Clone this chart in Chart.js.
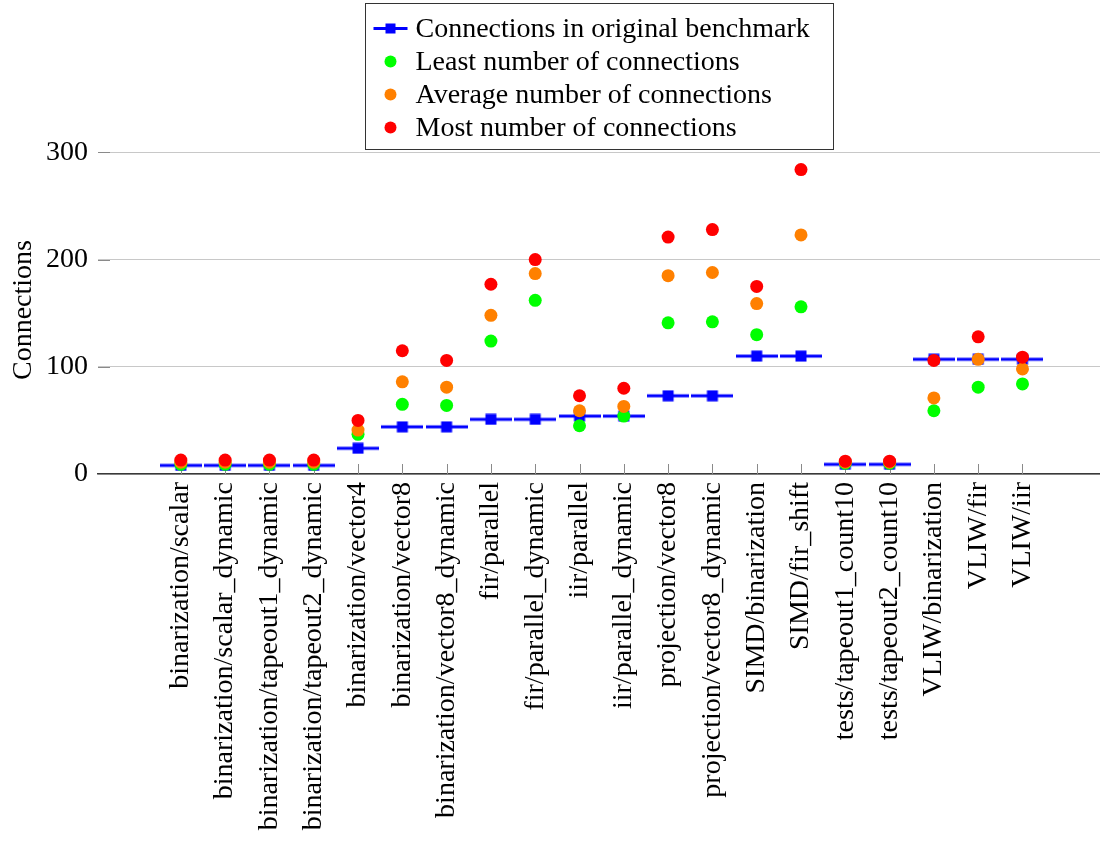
<!DOCTYPE html>
<html>
<head>
<meta charset="utf-8">
<title>Connections per benchmark</title>
<script src="https://cdn.jsdelivr.net/npm/chart.js@4.4.1/dist/chart.umd.min.js"></script>
<style>
  html, body { margin: 0; padding: 0; background: #fff; overflow: hidden; }
  #connChart { display: block; }
</style>
</head>
<body>
<canvas id="connChart" width="1100" height="846"></canvas>
<script>
// benchmark names along the x axis
const benchmarks = [
  'binarization/scalar', 'binarization/scalar_dynamic', 'binarization/tapeout1_dynamic',
  'binarization/tapeout2_dynamic', 'binarization/vector4', 'binarization/vector8',
  'binarization/vector8_dynamic', 'fir/parallel', 'fir/parallel_dynamic', 'iir/parallel',
  'iir/parallel_dynamic', 'projection/vector8', 'projection/vector8_dynamic',
  'SIMD/binarization', 'SIMD/fir_shift', 'tests/tapeout1_count10', 'tests/tapeout2_count10',
  'VLIW/binarization', 'VLIW/fir', 'VLIW/iir'
];

// connection counts
const originalConn = [8, 8, 8, 8, 24, 44, 44, 51, 51, 54, 54, 73, 73, 110, 110, 9, 9, 107, 107, 107];
const leastConn    = [9, 9, 9, 9, 37, 65, 64, 124, 162, 45, 54, 141, 142, 130, 156, 10, 10, 59, 81, 84];
const averageConn  = [11, 11, 11, 11, 41, 86, 81, 148, 187, 59, 63, 185, 188, 159, 223, 11, 11, 71, 107, 98];
const mostConn     = [13, 13, 13, 13, 50, 115, 106, 177, 200, 73, 80, 221, 228, 175, 284, 12, 12, 106, 128, 109];

const yTicks = [0, 100, 200, 300];

const SERIF = "'Liberation Serif', 'Times New Roman', serif";
const FONT_PX = 28;
Chart.defaults.font.family = SERIF;
Chart.defaults.font.size = FONT_PX;
Chart.defaults.color = '#000';

// marker for the original benchmark: short horizontal bar with a square in the middle
function segmentMarker(w) {
  const c = document.createElement('canvas');
  c.width = w; c.height = 12;
  const g = c.getContext('2d');
  g.fillStyle = '#0000ff';
  g.fillRect(0, 4.5, w, 3);
  g.fillRect(w / 2 - 5.5, 0.5, 11, 11);
  return c;
}

function toPoints(vals) {
  return vals.map((v, i) => ({ x: i, y: v }));
}

// pgfplots-style ticks that point into the plot area
const innerTicks = {
  id: 'innerTicks',
  beforeDatasetsDraw(chart) {
    const { ctx, chartArea, scales: { x, y } } = chart;
    ctx.save();
    ctx.strokeStyle = '#8a8a8a';
    ctx.lineWidth = 1;
    ctx.beginPath();
    x.ticks.forEach(t => {
      const px = Math.round(x.getPixelForValue(t.value)) + 0.5;
      ctx.moveTo(px, chartArea.bottom);
      ctx.lineTo(px, chartArea.bottom - 10);
    });
    y.ticks.forEach(t => {
      const py = Math.round(y.getPixelForValue(t.value)) + 0.5;
      ctx.moveTo(chartArea.left, py);
      ctx.lineTo(chartArea.left + 12, py);
    });
    ctx.stroke();
    ctx.restore();
  }
};

// boxed legend, one entry per row, centred over the plot
const boxLegend = {
  id: 'boxLegend',
  afterDraw(chart) {
    const { ctx, chartArea } = chart;
    const sets = chart.data.datasets;
    const rowH = 33, padL = 25, gap = 25, padR = 24;
    ctx.save();
    ctx.font = FONT_PX + 'px ' + SERIF;
    const textW = Math.max(...sets.map(d => ctx.measureText(d.label).width));
    const w = Math.round(padL + gap + textW + padR);
    const h = rowH * sets.length + 14;
    const left = Math.round((chartArea.left + chartArea.right) / 2 - w / 2) + 0.5;
    const top = 3.5;
    ctx.fillStyle = '#fff';
    ctx.fillRect(left, top, w, h);
    ctx.strokeStyle = '#333';
    ctx.lineWidth = 1;
    ctx.strokeRect(left, top, w, h);
    sets.forEach((d, i) => {
      const cy = top + 25 + i * rowH;
      const mx = left + padL;
      if (d.pointStyle instanceof HTMLCanvasElement) {
        ctx.fillStyle = d.borderColor;
        ctx.fillRect(mx - 17, cy - 1.5, 34, 3);
        ctx.fillRect(mx - 5, cy - 5, 10, 10);
      } else {
        ctx.fillStyle = d.backgroundColor;
        ctx.beginPath();
        ctx.arc(mx, cy, 6, 0, Math.PI * 2);
        ctx.fill();
      }
      ctx.fillStyle = '#000';
      ctx.textBaseline = 'middle';
      ctx.textAlign = 'left';
      ctx.fillText(d.label, mx + gap, cy + 1);
    });
    ctx.restore();
  }
};

const dotStyle = (label, color, order, vals) => ({
  label,
  data: toPoints(vals),
  backgroundColor: color,
  borderColor: color,
  borderWidth: 0,
  pointRadius: 6.5,
  pointHoverRadius: 6.5,
  pointStyle: 'circle',
  order
});

new Chart(document.getElementById('connChart'), {
  type: 'scatter',
  data: {
    datasets: [
      {
        label: 'Connections in original benchmark',
        data: toPoints(originalConn),
        borderColor: '#0000ff',
        backgroundColor: '#0000ff',
        pointStyle: segmentMarker(42),
        order: 4
      },
      dotStyle('Least number of connections', '#00ff00', 3, leastConn),
      dotStyle('Average number of connections', '#ff8000', 2, averageConn),
      dotStyle('Most number of connections', '#ff0000', 1, mostConn)
    ]
  },
  options: {
    responsive: false,
    animation: false,
    layout: { autoPadding: false, padding: { top: 146, right: 0, left: 0, bottom: 0 } },
    plugins: {
      legend: { display: false },
      tooltip: { enabled: false }
    },
    scales: {
      x: {
        type: 'linear',
        min: -1.87,
        max: 20.75,
        afterBuildTicks: scale => { scale.ticks = benchmarks.map((_, i) => ({ value: i })); },
        afterFit: scale => { scale.height = 372; scale.paddingRight = 0; scale.paddingLeft = 0; },
        grid: { display: false, drawTicks: false },
        border: { display: true, color: '#3a3a3a', width: 1.5 },
        ticks: {
          autoSkip: false,
          minRotation: 90,
          maxRotation: 90,
          padding: 8,
          callback: v => benchmarks[v]
        }
      },
      y: {
        min: 0,
        max: 306,
        afterBuildTicks: scale => { scale.ticks = yTicks.map(v => ({ value: v })); },
        afterFit: scale => { scale.width = 98; },
        grid: { color: '#c8c8c8', lineWidth: 1, drawTicks: false },
        border: { display: false },
        ticks: { padding: 10 },
        title: {
          display: true,
          text: 'Connections',
          padding: { top: 7, bottom: 0 }
        }
      }
    }
  },
  plugins: [innerTicks, boxLegend]
});
</script>
</body>
</html>
